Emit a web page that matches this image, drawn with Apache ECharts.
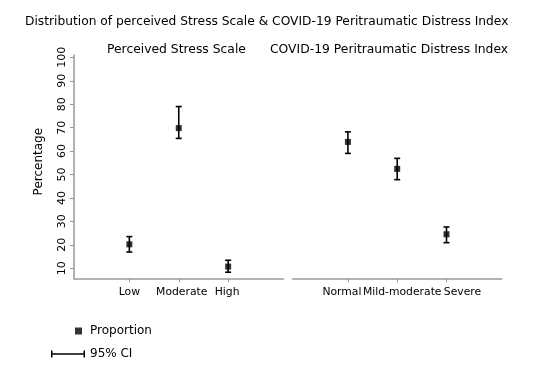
<!DOCTYPE html>
<html><head><meta charset="utf-8">
<script src="https://cdn.jsdelivr.net/npm/echarts@6/dist/echarts.min.js"></script>
<style>html,body{margin:0;padding:0;background:#fff}#c{width:534px;height:372px}</style>
</head><body><div id="c"></div>
<script>
const titleText = 'Distribution of perceived Stress Scale & COVID-19 Peritraumatic Distress Index';
const panelTitles = ['Perceived Stress Scale', 'COVID-19 Peritraumatic Distress Index'];
const stressCats = ['Low', 'Moderate', 'High'];
const stressProp = [20.2, 69.8, 10.7];
const stressLow = [16.9, 65.4, 8.3];
const stressHigh = [23.5, 79.0, 13.4];
const distressCats = ['Normal', 'Mild-moderate', 'Severe'];
const distressProp = [63.9, 52.4, 24.5];
const distressLow = [59.0, 47.8, 20.9];
const distressHigh = [68.2, 56.9, 27.6];
const yTicks = [10, 20, 30, 40, 50, 60, 70, 80, 90, 100];

const FONT = 'DejaVu Sans';
const axisGray = '#999999';

function pts(vals){ return vals.map((v,i)=>[i,v]); }
function ci(lo,hi){ return lo.map((v,i)=>[i,v,hi[i]]); }

function errRender(params, api){
  const x = api.value(0);
  const p1 = api.coord([x, api.value(1)]);
  const p2 = api.coord([x, api.value(2)]);
  const hw = 3;
  const st = {stroke:'#000', lineWidth:1.6};
  return {type:'group', children:[
    {type:'line', shape:{x1:p1[0],y1:p1[1],x2:p2[0],y2:p2[1]}, style:st},
    {type:'line', shape:{x1:p1[0]-hw,y1:p1[1],x2:p1[0]+hw,y2:p1[1]}, style:st},
    {type:'line', shape:{x1:p2[0]-hw,y1:p2[1],x2:p2[0]+hw,y2:p2[1]}, style:st}
  ]};
}

// label offsets (shift in px, negative = left) to mimic the reference's overlap-avoided label layout
const labelShift = {'Low':0,'Moderate':3,'High':-1,'Normal':-6,'Mild-moderate':5,'Severe':16};
// one x axis per label so no label is auto-hidden; only the first carries line and ticks
function xAxis(gi, cats, idx, main){
  const rich = {};
  cats.forEach((c,i)=>{
    const s = labelShift[c]||0;
    rich['l'+i] = {fontFamily:FONT, fontSize:10.8, color:'#000',
      padding: s<0 ? [0,-2*s,0,0] : [0,0,0,2*s]};
  });
  return {
    type:'value', gridIndex:gi, min:-1.12, max:3.12, position:'bottom', offset:0,
    axisLine:{show:main, onZero:false, lineStyle:{color:axisGray, width:1.5}},
    axisTick:{show:main, length:4, customValues:[0,1,2], lineStyle:{color:axisGray}},
    axisLabel:{show:true, customValues:[idx], margin:8, showMinLabel:true, showMaxLabel:true,
      formatter:(v)=>{const i=Math.round(v); return '{l'+i+'|'+cats[i]+'}';}, rich:rich},
    splitLine:{show:false}
  };
}
function yAxis(gi, show){
  return {
    type:'value', gridIndex:gi, min:5.7, max:101,
    name: show ? 'Percentage' : '', nameLocation:'middle', nameGap:29,
    nameTextStyle:{fontFamily:FONT, fontSize:12, color:'#000', padding:[0,0,0,10]},
    axisLine:{show:show, onZero:false, lineStyle:{color:axisGray, width:1.5}},
    axisTick:{show:show, length:4, customValues:yTicks, lineStyle:{color:axisGray}},
    axisLabel:{show:show, customValues:yTicks, rotate:90, margin:6,
      fontFamily:FONT, fontSize:11, color:'#000'},
    splitLine:{show:false}
  };
}

const chart = echarts.init(document.getElementById('c'), null, {renderer:'canvas'});
chart.setOption({
  animation:false,
  backgroundColor:'#fff',
  title:[
    {text:titleText, left:25, top:16, padding:0, textStyle:{fontFamily:FONT, fontSize:12.25, fontWeight:'normal', color:'#000'}},
    {text:panelTitles[0], left:107, top:44, padding:0, textStyle:{fontFamily:FONT, fontSize:12.35, fontWeight:'normal', color:'#000'}},
    {text:panelTitles[1], left:270, top:44, padding:0, textStyle:{fontFamily:FONT, fontSize:12.35, fontWeight:'normal', color:'#000'}}
  ],
  grid:[
    {left:74, right:250.5, top:55, bottom:93.7},
    {left:292.7, right:32.3, top:55, bottom:93.7}
  ],
  xAxis:[
    xAxis(0, stressCats, 0, true), xAxis(0, stressCats, 1, false), xAxis(0, stressCats, 2, false),
    xAxis(1, distressCats, 0, true), xAxis(1, distressCats, 1, false), xAxis(1, distressCats, 2, false)
  ],
  yAxis:[yAxis(0, true), yAxis(1, false)],
  legend:[
    {data:[{name:'Proportion', icon:'rect'}], left:75, top:325, padding:0, itemWidth:7, itemHeight:7,
     textStyle:{fontFamily:FONT, fontSize:12, color:'#000', padding:[0,0,0,3]}},
    {data:[{name:'95% CI', icon:'path://M0,0h1.5v7h-1.5z M0,2.75h34v1.5h-34z M32.5,0h1.5v7h-1.5z'}],
     left:51, top:348, padding:0, itemWidth:34, itemHeight:7,
     textStyle:{fontFamily:FONT, fontSize:12, color:'#000'}}
  ],
  series:[
    {name:'95% CI', type:'custom', xAxisIndex:0, yAxisIndex:0, renderItem:errRender,
     itemStyle:{color:'#000'}, data:ci(stressLow, stressHigh), z:2},
    {name:'95% CI', type:'custom', xAxisIndex:3, yAxisIndex:1, renderItem:errRender,
     itemStyle:{color:'#000'}, data:ci(distressLow, distressHigh), z:2},
    {name:'Proportion', type:'scatter', xAxisIndex:0, yAxisIndex:0, symbol:'rect', symbolSize:6,
     itemStyle:{color:'#000'}, data:pts(stressProp), z:3},
    {name:'Proportion', type:'scatter', xAxisIndex:3, yAxisIndex:1, symbol:'rect', symbolSize:6,
     itemStyle:{color:'#000'}, data:pts(distressProp), z:3}
  ]
});
</script></body></html>
